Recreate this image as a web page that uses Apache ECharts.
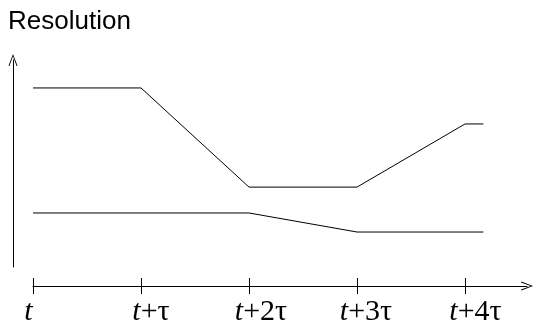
<!DOCTYPE html>
<html>
<head>
<meta charset="utf-8">
<script src="https://cdn.jsdelivr.net/npm/echarts@6/dist/echarts.min.js"></script>
<style>html,body{margin:0;padding:0;background:#fff}#c{width:536px;height:327px}</style>
</head>
<body>
<div id="c"></div>
<script>
// ---- data ----
const tickValues = [0, 1, 2, 3, 4];
const tickLabels = ['t', 't+τ', 't+2τ', 't+3τ', 't+4τ'];
const upperX = [0, 1, 2, 3, 4, 4.17];
const upperY = [8.65, 8.65, 3.86, 3.86, 6.91, 6.91];
const lowerX = [0, 2, 3, 4.17];
const lowerY = [2.61, 2.61, 1.69, 1.69];
const titleText = 'Resolution';

// ---- styling ----
const labelShift = [-4.5, 10, 12, 9, 10.5];
const serif = '"Liberation Serif", "DejaVu Serif", serif';
const rich = {};
tickLabels.forEach((lab, k) => {
  const s = labelShift[k];
  rich['i' + k] = { fontFamily: serif, fontStyle: 'italic', fontSize: 30, color: '#000',
    padding: s >= 0 ? [0, 0, 0, 2 * s] : [0, -2 * s, 0, 0] };
  rich['n' + k] = { fontFamily: serif, fontSize: 30, color: '#000' };
});
const arrowPath = 'path://M5 0 L10 13 L9 13.4 L5 2.6 L1 13.4 L0 13 Z';

const pairs = (xs, ys) => xs.map((x, i) => [x, ys[i]]);

const chart = echarts.init(document.getElementById('c'), null, { renderer: 'canvas' });
chart.setOption({
  animation: false,
  title: {
    text: titleText, left: 3, top: 4,
    textStyle: { fontFamily: '"Liberation Sans", Arial, sans-serif', fontWeight: 'normal', fontSize: 26, color: '#000' }
  },
  grid: { left: 33, right: 9, top: 60, bottom: 60 },
  xAxis: [{
    type: 'value', min: 0, max: 4.574, position: 'bottom', offset: 19,
    splitLine: { show: false },
    axisLine: { show: true, onZero: false, lineStyle: { color: '#000', width: 1 },
      symbol: ['none', arrowPath], symbolSize: [9, 13] },
    axisTick: { show: true, length: 8, customValues: tickValues, lineStyle: { color: '#000' } },
    axisLabel: {
      show: true, margin: 11, customValues: tickValues,
      formatter: (v) => {
        const k = Math.round(v);
        const lab = tickLabels[k];
        return '{i' + k + '|' + lab.charAt(0) + '}' + (lab.length > 1 ? '{n' + k + '|' + lab.slice(1) + '}' : '');
      },
      rich: rich
    }
  }, {
    type: 'value', min: 0, max: 4.574, position: 'bottom', offset: 19,
    splitLine: { show: false },
    axisLine: { show: false, onZero: false },
    axisTick: { show: true, inside: true, length: 8, customValues: tickValues, lineStyle: { color: '#000' } },
    axisLabel: { show: false }
  }],
  yAxis: {
    type: 'value', min: 0, max: 10, position: 'left', offset: 20,
    splitLine: { show: false },
    axisLine: { show: true, onZero: false, lineStyle: { color: '#000', width: 1 },
      symbol: ['none', arrowPath], symbolSize: [9, 13] },
    axisTick: { show: false },
    axisLabel: { show: false }
  },
  series: [{
    type: 'line', xAxisIndex: 0, data: pairs(upperX, upperY), symbol: 'none',
    lineStyle: { color: '#000', width: 1 }
  }, {
    type: 'line', xAxisIndex: 0, data: pairs(lowerX, lowerY), symbol: 'none',
    lineStyle: { color: '#000', width: 1 }
  }]
});
</script>
</body>
</html>
